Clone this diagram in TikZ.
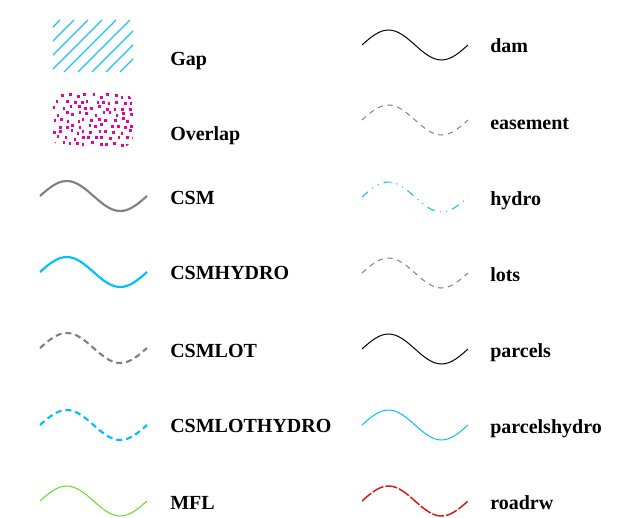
\documentclass[tikz,border=0pt]{standalone}
\usepackage{fontspec}
\setmainfont{Liberation Serif}
\usepackage{tikz}
\usepackage{xcolor}

\begin{document}
\begin{tikzpicture}[x=0.75pt,y=0.75pt,yscale=-1,xscale=1,
  lbl/.style={anchor=base west,inner sep=0.75pt,font=\fontsize{15}{18}\selectfont\bfseries},
  csmline/.style={color={rgb, 255:red, 128; green, 128; blue, 128 },line width=1.6pt},
  hydroline/.style={color={rgb, 255:red, 0; green, 191; blue, 255 },line width=1.6pt},
  thinline/.style={line width=0.75pt}]
\path (0,0) rectangle (623,517); %set diagram to the legend size

%Shape: Hatched Rect (Gap)
\begin{scope}
\clip (53,20) rectangle (133,72);
\foreach \a in {-6,8,...,136}
  \draw [color={rgb, 255:red, 30; green, 195; blue, 240 },line width=1pt] (\a,72) -- (\a+52,20);
\end{scope}
%Shape: Dotted Rounded Rect (Overlap)
\begin{scope}
\clip [rounded corners=8] (53,93) rectangle (133,147);
\pgfmathsetseed{23}
\foreach \i in {0,...,10}
  \foreach \j in {0,...,8} {
    \pgfmathsetmacro\px{54+\i*7.4+mod(\j,2)*3.7+rand*2.2}
    \pgfmathsetmacro\py{94.5+\j*6+rand*1.8}
    \fill [color={rgb, 255:red, 230; green, 0; blue, 170 }] (\px,\py) rectangle ++(2.6,3);
  }
\end{scope}

%Curve Lines (CSM)
\draw [csmline] (40,196) sin (66.75,181) cos (93.5,196) sin (120.25,211) cos (147,196);
%Curve Lines (CSMHYDRO)
\draw [hydroline] (40,272) sin (66.75,257) cos (93.5,272) sin (120.25,287) cos (147,272);
%Curve Lines (CSMLOT)
\draw [csmline,dash pattern=on 4.5pt off 3pt] (40,348) sin (66.75,333) cos (93.5,348) sin (120.25,363) cos (147,348);
%Curve Lines (CSMLOTHYDRO)
\draw [hydroline,dash pattern=on 4.5pt off 3pt] (40,425) sin (66.75,410) cos (93.5,425) sin (120.25,440) cos (147,425);
%Curve Lines (MFL)
\draw [thinline,color={rgb, 255:red, 100; green, 220; blue, 30 }] (40,501) sin (66.75,486) cos (93.5,501) sin (120.25,516) cos (147,501);

%Curve Lines (dam)
\draw [thinline,color=black] (362,45) sin (388.5,30) cos (415,45) sin (441.5,60) cos (468,45);
%Curve Lines (easement)
\draw [thinline,color={rgb, 255:red, 128; green, 128; blue, 128 },dash pattern=on 4pt off 3.5pt] (362,120) sin (388.5,105) cos (415,120) sin (441.5,135) cos (468,120);
%Curve Lines (hydro)
\draw [thinline,color={rgb, 255:red, 0; green, 191; blue, 255 },dash pattern=on 6pt off 4pt on 0.8pt off 4pt on 0.8pt off 4pt] (362,197) sin (388.5,182) cos (415,197) sin (441.5,212) cos (468,197);
%Curve Lines (lots)
\draw [thinline,color={rgb, 255:red, 128; green, 128; blue, 128 },dash pattern=on 4pt off 3.5pt] (362,273) sin (388.5,258) cos (415,273) sin (441.5,288) cos (468,273);
%Curve Lines (parcels)
\draw [thinline,color=black] (362,349) sin (388.5,334) cos (415,349) sin (441.5,364) cos (468,349);
%Curve Lines (parcelshydro)
\draw [thinline,color={rgb, 255:red, 0; green, 191; blue, 255 }] (362,425) sin (388.5,410) cos (415,425) sin (441.5,440) cos (468,425);
%Curve Lines (roadrw)
\draw [line width=1.1pt,color={rgb, 255:red, 220; green, 20; blue, 20 },dash pattern=on 9pt off 1.5pt] (362,501) sin (388.5,486) cos (415,501) sin (441.5,516) cos (468,501);

% Text Node
\draw (169,65) node [lbl] (gap) {Gap};
% Text Node
\draw (169,140) node [lbl] (overlap) {Overlap};
% Text Node
\draw (169,204) node [lbl] (csm) {CSM};
% Text Node
\draw (169,279) node [lbl] (csmhydro) {CSMHYDRO};
% Text Node
\draw (169,357) node [lbl] (csmlot) {CSMLOT};
% Text Node
\draw (169,432) node [lbl] (csmlothydro) {CSMLOTHYDRO};
% Text Node
\draw (169,509) node [lbl] (mfl) {MFL};
% Text Node
\draw (489,53) node [lbl] (dam) {dam};
% Text Node
\draw (489,129) node [lbl] (easement) {easement};
% Text Node
\draw (489,205) node [lbl] (hydro) {hydro};
% Text Node
\draw (489,281) node [lbl] (lots) {lots};
% Text Node
\draw (489,357) node [lbl] (parcels) {parcels};
% Text Node
\draw (489,433) node [lbl] (parcelshydro) {parcelshydro};
% Text Node
\draw (489,509) node [lbl] (roadrw) {roadrw};
\end{tikzpicture}
\end{document}
